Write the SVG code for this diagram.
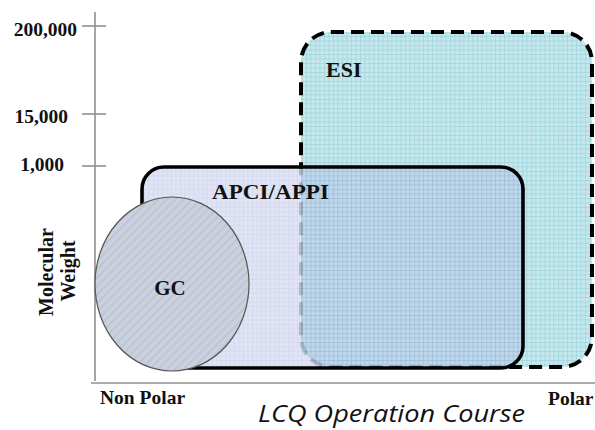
<svg xmlns="http://www.w3.org/2000/svg" width="595" height="430" viewBox="0 0 595 430">
<style>
.lbl{font-family:"Liberation Serif","Times New Roman",serif;font-weight:bold;fill:#111;}
.axis{stroke:#8f8f8f;stroke-width:1.6;fill:none;}
</style>
<defs>
<pattern id="gridEsi" width="4.5" height="4.5" patternUnits="userSpaceOnUse">
<rect width="4.5" height="4.5" fill="#c4e8ed"/>
<path d="M0 0.5H4.5M0.5 0V4.5" stroke="#a2d5dc" stroke-width="0.8"/>
</pattern>
<pattern id="gridApci" width="4.5" height="4.5" patternUnits="userSpaceOnUse">
<rect width="4.5" height="4.5" fill="#b6bfe6"/>
<path d="M0 0.5H4.5M0.5 0V4.5" stroke="#97a3d8" stroke-width="0.8"/>
</pattern>
<pattern id="hatch" width="6" height="6" patternUnits="userSpaceOnUse" patternTransform="rotate(45)">
<rect width="6" height="6" fill="#cad0dc"/>
<rect width="2" height="6" fill="#bec5d4"/>
</pattern>
<mask id="fadeInApci" maskUnits="userSpaceOnUse" x="0" y="0" width="595" height="430">
<rect x="0" y="0" width="595" height="430" fill="#fff"/>
<rect x="144" y="169" width="377" height="197" rx="20" ry="20" fill="#4a4a4a"/>
</mask>
</defs>
<g id="axes">
<line class="axis" x1="95" y1="12" x2="95" y2="381"/>
<line class="axis" x1="91" y1="383" x2="595" y2="383"/>
<line class="axis" x1="82" y1="26" x2="106" y2="26"/>
<line class="axis" x1="82" y1="114" x2="106" y2="114"/>
<line class="axis" x1="82" y1="166" x2="106" y2="166"/>
<text class="lbl" x="77" y="36" font-size="19.5" text-anchor="end">200,000</text>
<text class="lbl" x="68" y="123" font-size="19.5" text-anchor="end">15,000</text>
<text class="lbl" x="64" y="171" font-size="19.5" text-anchor="end">1,000</text>
<text class="lbl" font-size="20" text-anchor="middle" transform="translate(53,272) rotate(-90)">Molecular</text>
<text class="lbl" font-size="20" text-anchor="middle" transform="translate(75,271) rotate(-90)">Weight</text>
<text class="lbl" x="100" y="404" font-size="19.5">Non Polar</text>
<text class="lbl" x="548" y="405" font-size="19.5">Polar</text>
</g>
<g id="esi">
<rect x="301" y="32" width="291" height="335" rx="30" ry="30" fill="url(#gridEsi)"/>
<rect x="301" y="32" width="291" height="335" rx="30" ry="30" fill="none" stroke="#000" stroke-width="4" stroke-dasharray="13,7" mask="url(#fadeInApci)"/>
<text class="lbl" x="326" y="77" font-size="22">ESI</text>
</g>
<g id="apci">
<rect x="142" y="167" width="381" height="201" rx="22" ry="22" fill="url(#gridApci)" fill-opacity="0.42"/>
<rect x="142" y="167" width="381" height="201" rx="22" ry="22" fill="none" stroke="#000" stroke-width="3.6"/>
<text class="lbl" x="212" y="199" font-size="21" textLength="117" lengthAdjust="spacingAndGlyphs">APCI/APPI</text>
</g>
<g id="gc">
<ellipse cx="172" cy="284" rx="77" ry="87" fill="url(#hatch)" stroke="#555" stroke-width="1.2"/>
<text class="lbl" x="170" y="295" font-size="21" text-anchor="middle">GC</text>
</g>
<text x="258" y="422" font-family="'Open Sans','Liberation Sans',sans-serif" font-style="italic" font-size="23" fill="#111" textLength="267" lengthAdjust="spacingAndGlyphs">LCQ Operation Course</text>
</svg>
